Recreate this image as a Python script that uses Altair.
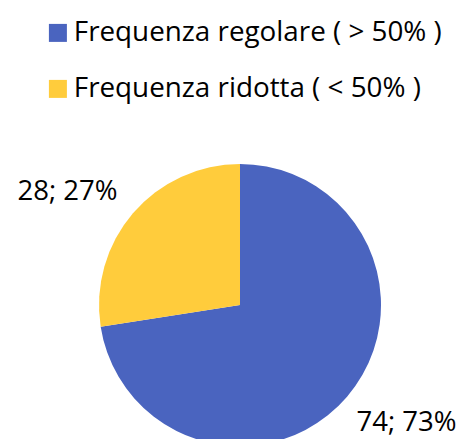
import altair as alt
import pandas as pd

categories = ["Frequenza regolare ( > 50% )", "Frequenza ridotta ( < 50% )"]
counts = [74, 28]
percents = ["73%", "27%"]
colors = ["#4A64BF", "#FFCC3C"]

df = pd.DataFrame({
    "cat": categories,
    "count": counts,
    "label": [f"{c}; {p}" for c, p in zip(counts, percents)],
    "order": [0, 1],
})

base = alt.Chart(df).encode(
    theta=alt.Theta("count:Q", stack=True),
    order=alt.Order("order:Q"),
)

arc = base.mark_arc(outerRadius=141, stroke=None).encode(
    x=alt.value(232),
    y=alt.value(297),
    color=alt.Color(
        "cat:N",
        scale=alt.Scale(domain=categories, range=colors),
        sort=categories,
        legend=alt.Legend(
            title=None,
            orient="none",
            legendX=36,
            legendY=11,
            symbolType="square",
            symbolSize=324,
            symbolStrokeWidth=0,
            labelFont="Open Sans",
            labelFontSize=27.8,
            labelColor="#000000",
            labelLimit=500,
            rowPadding=27,
            padding=0,
            labelOffset=2,
        ),
    ),
)

text_small = base.mark_text(
    radius=206, thetaOffset=-0.13, font="Open Sans", fontSize=27.5, color="#000000"
).encode(
    x=alt.value(232),
    y=alt.value(297),
    text="label:N",
    opacity=alt.condition("datum.order == 1", alt.value(1), alt.value(0)),
)

text_big = base.mark_text(
    radius=206, thetaOffset=-0.13, font="Open Sans", fontSize=27.5, color="#000000",
    dx=-6, dy=5,
).encode(
    x=alt.value(232),
    y=alt.value(297),
    text="label:N",
    opacity=alt.condition("datum.order == 0", alt.value(1), alt.value(0)),
)

chart = (arc + text_small + text_big).properties(
    width=451, height=431, padding=0,
    autosize=alt.AutoSizeParams(type="none"),
).configure_view(stroke=None)

chart.save("out.html", embed_options={"renderer": "svg", "actions": False})
